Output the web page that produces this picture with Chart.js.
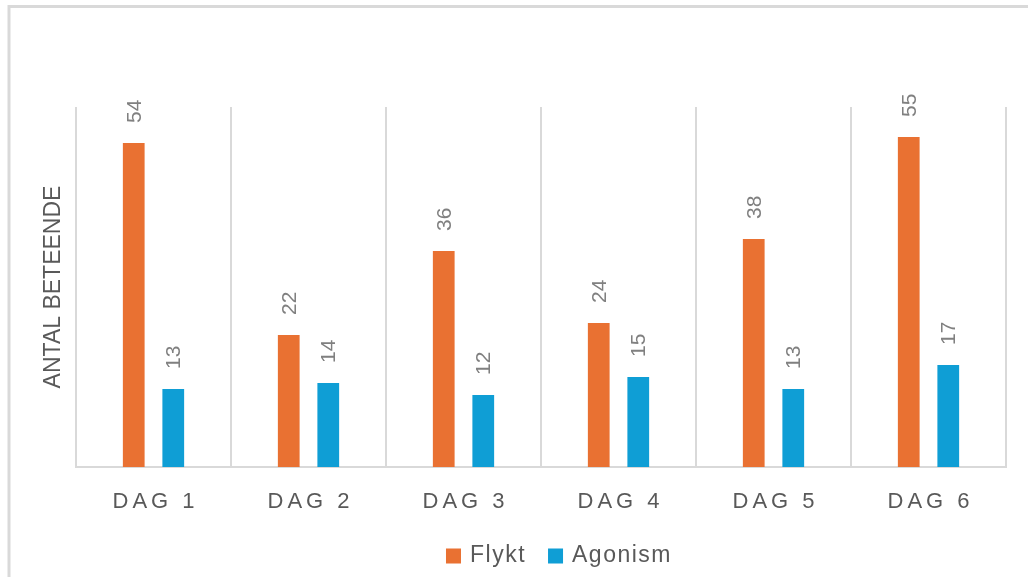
<!DOCTYPE html>
<html>
<head>
<meta charset="utf-8">
<script src="https://cdn.jsdelivr.net/npm/chart.js@4/dist/chart.umd.min.js"></script>
<style>
    body { margin: 0; background: #fff; overflow: hidden; }
    canvas { display: block; }
</style>
</head>
<body>
<canvas id="dagChart" width="1028" height="577"></canvas>
<script>
// Data
var days = ['DAG 1', 'DAG 2', 'DAG 3', 'DAG 4', 'DAG 5', 'DAG 6'];
var flykt = [54, 22, 36, 24, 38, 55];
var agonism = [13, 14, 12, 15, 13, 17];
var yMin = 0;
var yMax = 60;

var textGray = '#595959';
var labelGray = '#808080';
var lineGray = '#d9d9d9';

// Frame around the chart (cropped on the right and bottom)
var framePlugin = {
    id: 'frame',
    beforeDraw: function(chart) {
        var ctx = chart.ctx;
        ctx.save();
        ctx.strokeStyle = lineGray;
        ctx.lineWidth = 3;
        ctx.beginPath();
        ctx.moveTo(9, chart.height + 5);
        ctx.lineTo(9, 6.5);
        ctx.lineTo(chart.width + 5, 6.5);
        ctx.stroke();
        ctx.restore();
    }
};

// Vertical value labels above each bar
var barLabelPlugin = {
    id: 'barLabels',
    afterDatasetsDraw: function(chart) {
        var ctx = chart.ctx;
        ctx.save();
        ctx.font = '21px "Liberation Sans", Arial, sans-serif';
        ctx.fillStyle = labelGray;
        ctx.textAlign = 'left';
        ctx.textBaseline = 'middle';
        chart.data.datasets.forEach(function(ds, di) {
            chart.getDatasetMeta(di).data.forEach(function(bar, i) {
                ctx.save();
                ctx.translate(bar.x, bar.y - 20);
                ctx.rotate(-Math.PI / 2);
                ctx.fillText(String(ds.data[i]), 0, 1);
                ctx.restore();
            });
        });
        ctx.restore();
    }
};

// Letter-spaced category labels and the legend
var textPlugin = {
    id: 'spacedText',
    afterDraw: function(chart) {
        var ctx = chart.ctx;
        var xScale = chart.scales.x;
        ctx.save();
        ctx.fillStyle = textGray;
        ctx.textBaseline = 'middle';
        ctx.textAlign = 'left';

        ctx.font = '22px "Liberation Sans", Arial, sans-serif';
        ctx.letterSpacing = '4px';
        days.forEach(function(day, i) {
            var w = ctx.measureText(day).width - 4;
            ctx.fillText(day, xScale.getPixelForTick(i) - w / 2, 502);
        });

        // legend
        ctx.font = '23px "Liberation Sans", Arial, sans-serif';
        ctx.letterSpacing = '1.5px';
        var items = chart.data.datasets.map(function(ds) {
            return { text: ds.label, color: ds.backgroundColor, w: ctx.measureText(ds.label).width };
        });
        var box = 15, gapBox = 9, gapItem = 22;
        var total = 0;
        items.forEach(function(it, k) {
            total += box + gapBox + it.w + (k < items.length - 1 ? gapItem : 0);
        });
        var x = 559 - total / 2;
        var cy = 556;
        items.forEach(function(it) {
            ctx.fillStyle = it.color;
            ctx.fillRect(x, cy - box / 2, box, box);
            x += box + gapBox;
            ctx.fillStyle = textGray;
            ctx.fillText(it.text, x, cy);
            x += it.w + gapItem;
        });
        ctx.restore();
    }
};

var ctx = document.getElementById('dagChart').getContext('2d');
var chart = new Chart(ctx, {
    type: 'bar',
    data: {
        labels: days,
        datasets: [{
            label: 'Flykt',
            backgroundColor: '#E97132',
            borderWidth: 0,
            data: flykt
        }, {
            label: 'Agonism',
            backgroundColor: '#0F9ED5',
            borderWidth: 0,
            data: agonism
        }]
    },
    options: {
        responsive: false,
        animation: false,
        datasets: {
            bar: {
                categoryPercentage: 0.51,
                barPercentage: 0.55
            }
        },
        layout: {
            padding: { top: 107, right: 22, bottom: 50, left: 0 }
        },
        scales: {
            x: {
                grid: {
                    offset: true,
                    color: lineGray,
                    lineWidth: 2,
                    drawTicks: false
                },
                border: { color: lineGray, width: 2 },
                ticks: { color: 'rgba(0,0,0,0)', font: { size: 22 } },
                afterFit: function(scale) { scale.height = 60; }
            },
            y: {
                min: yMin,
                max: yMax,
                grid: { display: false },
                border: { display: false },
                ticks: { display: false },
                title: {
                    display: true,
                    text: 'ANTAL BETEENDE',
                    color: textGray,
                    font: { family: '"Liberation Sans", Arial, sans-serif', size: 23 },
                    padding: { top: 40, bottom: 0 }
                },
                afterFit: function(scale) { scale.width = 76; }
            }
        },
        plugins: {
            legend: { display: false },
            tooltip: { enabled: false }
        }
    },
    plugins: [framePlugin, barLabelPlugin, textPlugin]
});
</script>
</body>
</html>
